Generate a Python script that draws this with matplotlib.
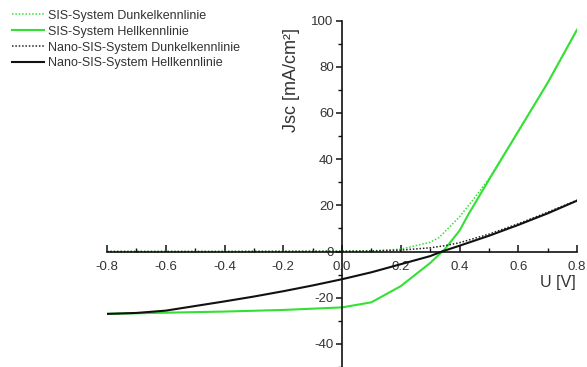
import matplotlib
matplotlib.use("Agg")
import matplotlib.pyplot as plt
from matplotlib.ticker import MultipleLocator, FuncFormatter

plt.rcParams['font.family'] = ['Liberation Sans', 'DejaVu Sans']

# Voltage sweep [V]
u_sis_hell = [-0.8, -0.6, -0.4, -0.2, 0.0, 0.1, 0.2, 0.3, 0.35, 0.4, 0.43, 0.5, 0.6, 0.7, 0.8]
j_sis_hell = [-27.0, -26.5, -26.0, -25.3, -24.2, -22.0, -15.0, -5.0, 1.0, 9.0, 16.0, 31.0, 52.0, 73.0, 96.0]

u_sis_dunkel = [-0.8, -0.4, 0.0, 0.1, 0.2, 0.3, 0.33, 0.4, 0.45, 0.5, 0.6, 0.7, 0.8]
j_sis_dunkel = [0.0, 0.0, 0.1, 0.3, 1.0, 4.0, 6.0, 15.0, 23.0, 31.5, 52.0, 73.0, 96.0]

u_nano_hell = [-0.8, -0.7, -0.6, -0.5, -0.4, -0.3, -0.2, -0.1, 0.0, 0.1, 0.2, 0.3, 0.34, 0.4, 0.5, 0.6, 0.7, 0.8]
j_nano_hell = [-27.0, -26.6, -25.6, -23.6, -21.6, -19.5, -17.2, -14.7, -12.0, -9.0, -5.5, -2.0, 0.0, 2.5, 6.8, 11.5, 16.5, 22.0]

u_nano_dunkel = [-0.8, -0.4, 0.0, 0.1, 0.2, 0.3, 0.35, 0.4, 0.5, 0.6, 0.7, 0.8]
j_nano_dunkel = [0.0, 0.0, 0.1, 0.2, 0.6, 1.6, 2.5, 3.8, 7.5, 12.0, 17.0, 22.2]

labels = ["SIS-System Dunkelkennlinie", "SIS-System Hellkennlinie",
          "Nano-SIS-System Dunkelkennlinie", "Nano-SIS-System Hellkennlinie"]

green = '#33e033'
text_color = '#333333'

fig = plt.figure(figsize=(5.87, 3.67), dpi=100)
ax = fig.add_axes([107 / 587, 0.0, 470 / 587, 346.5 / 367])

dot = (0, (1, 1.2))
l1, = ax.plot(u_sis_dunkel, j_sis_dunkel, color=green, lw=1.1, ls=dot)
l2, = ax.plot(u_sis_hell, j_sis_hell, color=green, lw=1.5)
l3, = ax.plot(u_nano_dunkel, j_nano_dunkel, color='#222222', lw=1.1, ls=dot)
l4, = ax.plot(u_nano_hell, j_nano_hell, color='#111111', lw=1.5)

ax.set_xlim(-0.8, 0.8)
ax.set_ylim(-50, 100)

for side in ('top', 'right'):
    ax.spines[side].set_visible(False)
ax.spines['left'].set_position(('data', 0))
ax.spines['bottom'].set_position(('data', 0))
for side in ('left', 'bottom'):
    ax.spines[side].set_color('#111111')
    ax.spines[side].set_linewidth(1.2)

ax.xaxis.set_major_locator(MultipleLocator(0.2))
ax.xaxis.set_minor_locator(MultipleLocator(0.1))
ax.yaxis.set_major_locator(MultipleLocator(20))
ax.yaxis.set_minor_locator(MultipleLocator(10))
ax.xaxis.set_major_formatter(FuncFormatter(lambda v, p: f"{v:.1f}"))
ax.yaxis.set_major_formatter(FuncFormatter(lambda v, p: f"{v:.0f}"))

ax.tick_params(axis='x', which='major', direction='in', length=5, width=1.1,
               labelsize=9.5, labelcolor=text_color, pad=6.5, color='#111111')
ax.tick_params(axis='x', which='minor', direction='in', length=3, width=1.0, color='#111111')
ax.tick_params(axis='y', which='major', direction='out', length=4.5, width=1.1,
               labelsize=9.5, labelcolor=text_color, pad=1.5, color='#111111')
ax.tick_params(axis='y', which='minor', direction='out', length=3, width=1.0, color='#111111')

fig.text(558 / 587, 1 - 283 / 367, "U [V]", fontsize=11.5, color=text_color,
         ha='center', va='center')
fig.text(292 / 587, 1 - 80 / 367, "Jsc [mA/cm²]", fontsize=13, color=text_color,
         ha='center', va='center', rotation=90)

fig.legend([l1, l2, l3, l4], labels, loc='upper left',
           bbox_to_anchor=(3 / 587, 1 - 1 / 367),
           frameon=False, fontsize=9, labelcolor=text_color, handlelength=2.6,
           handletextpad=0.3, labelspacing=0.31, borderaxespad=0.3)

fig.savefig("out.png", dpi=100)
